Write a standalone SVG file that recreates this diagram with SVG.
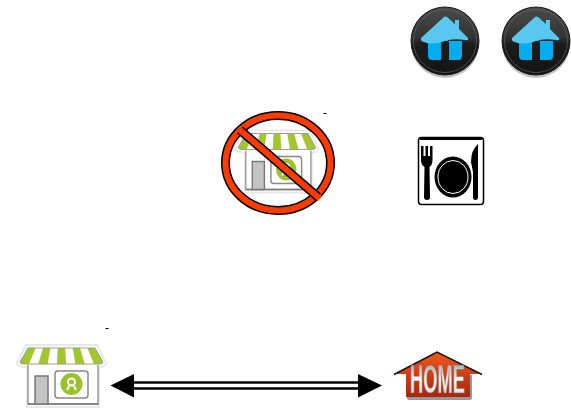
<svg xmlns="http://www.w3.org/2000/svg" width="571" height="408" viewBox="0 0 571 408">
<style>
.tick{stroke:#000;stroke-width:1}
.shaft{stroke:#000;stroke-width:2.500;fill:none}
</style>
<defs>
<linearGradient id="disc" x1="0" y1="0" x2="0" y2="1"><stop offset="0" stop-color="#4a4a4a"/><stop offset=".45" stop-color="#333"/><stop offset=".55" stop-color="#1c1c1c"/><stop offset="1" stop-color="#141414"/></linearGradient>
<linearGradient id="homeFill" x1="0" y1="0" x2="0" y2="1"><stop offset="0" stop-color="#f4561a"/><stop offset="1" stop-color="#a8260e"/></linearGradient>
<linearGradient id="homeText" x1="0" y1="0" x2="0" y2="1"><stop offset="0" stop-color="#7f8f94"/><stop offset=".55" stop-color="#fff"/><stop offset="1" stop-color="#c4ced0"/></linearGradient>
<symbol id="houseBtn" viewBox="-36 -36 72 74" width="72" height="74" overflow="visible">
<ellipse cx="0" cy="2.500" rx="34" ry="34.500" fill="#999" opacity=".6"/>
<circle r="34" fill="url(#disc)" stroke="#1a1a1a" stroke-width="1"/>
<circle r="31.500" fill="none" stroke="#6a6a6a" stroke-width="1" opacity=".6"/>
<path d="M-17 0V15Q-17 19 -13 19H-4V3Q-4 -2 0 -2T4 3V19H13Q17 19 17 15V0Z" fill="#00aeef"/>
<path d="M-24 -3L-1 -24Q0 -25 2 -24L10 -17V-21H14V-12L23 -3Q24 0 20 -1Q6 -3 -3 1Q-14 4 -21 1Q-25 0 -24 -3Z" fill="#58c8f0"/>
</symbol>
<symbol id="shop" viewBox="0 0 90 64" width="90" height="64" overflow="visible">
<path d="M-1 18L8 0H79L88 18Q88 22 81 22V62H9V22Q-1 22 -1 18Z" fill="#fff" stroke="#e8e8e8" stroke-width="2"/>
<path d="M2 17L10 3H77L85 17Q85 19 81 19H6Q2 19 2 17Z" fill="#a3c62d" stroke="#999" stroke-width="1"/>
<path d="M17.400 3.500H24.900L20.400 18.500H11.200ZM32.300 3.500H39.800L38.900 18.500H29.700ZM47.200 3.500H54.700L57.300 18.500H48.100ZM62.100 3.500H69.600L75.800 18.500H66.600Z" fill="#fff"/>
<path d="M10 20V59H80V20" fill="#fff" stroke="#999" stroke-width="1.500"/>
<path d="M10 59H80" stroke="#777" stroke-width="1.500"/>
<rect x="17" y="31" width="13" height="28" fill="#c4c4c4" stroke="#777" stroke-width="1.500"/>
<rect x="37" y="26" width="33" height="27" rx="3" fill="#fff" stroke="#888" stroke-width="1.500"/>
<circle cx="53.500" cy="39" r="11" fill="#9cc22b"/>
<circle cx="53.500" cy="37" r="3.500" fill="none" stroke="#fff" stroke-width="2"/>
<path d="M51 41L49 45M56 41L58 45" stroke="#fff" stroke-width="2"/>
</symbol>
</defs>
<g id="home-button-1"><use href="#houseBtn" x="409" y="5"/></g>
<g id="home-button-2"><use href="#houseBtn" x="500" y="5"/></g>
<g id="store-no">
<g transform="translate(236.500,130.500) scale(.93,1)"><use href="#shop"/></g>
<ellipse cx="278" cy="163" rx="52.500" ry="47.500" fill="none" stroke="#000" stroke-width="9"/>
<ellipse cx="278" cy="163" rx="52.500" ry="47.500" fill="none" stroke="#ff3b00" stroke-width="6"/>
<path d="M240 130L318 197" stroke="#000" stroke-width="9"/>
<path d="M238 128.300L320 198.700" stroke="#ff3b00" stroke-width="6"/>
<path class="tick" d="M323.500 113.500H326.500"/>
</g>
<g id="restaurant">
<rect x="418.500" y="137.500" width="65" height="67" rx="3" fill="#fff" stroke="#000" stroke-width="1.500"/>
<path d="M420 137H482V140H420Z" fill="#000"/>
<path d="M421 146H423.500V156H425.500V146H428V156H430V146H432.500V160Q432.500 165 429.500 167L430 197Q430 200 427 200T424 197L424.500 167Q421 165 421 160Z" fill="#000"/>
<ellipse cx="453" cy="177" rx="18.500" ry="20.500" fill="#000"/>
<ellipse cx="453" cy="177" rx="15" ry="16.500" fill="none" stroke="#fff" stroke-width="1"/>
<path d="M473 172V197Q473 200 475.500 200T478 197V144Q471 150 471 162Z" fill="#000"/>
</g>
<g id="store"><use href="#shop" x="18" y="345"/><path class="tick" d="M105.500 328.500H108.500"/></g>
<g id="home-sign">
<path d="M407 375H472V398Q472 400 469 400H410Q407 400 407 398Z" fill="#333" opacity=".5"/>
<path d="M395 374L437 352L480 374H470V397H406V374Z" fill="url(#homeFill)"/>
<path d="M394 374.500L437 352L482 374.500" fill="none" stroke="#111" stroke-width="1.500"/>
<text x="437.500" y="393" text-anchor="middle" font-family="'Liberation Sans',sans-serif" font-weight="700" font-size="40" textLength="55" lengthAdjust="spacingAndGlyphs" fill="url(#homeText)" stroke="#666" stroke-width=".4">HOME</text>
</g>
<g id="connectors">
<path class="shaft" d="M130 382.500H362M130 388.500H362"/>
<path d="M110.500 385.500L134 374V397.500Z" fill="#000"/>
<path d="M382 385.500L358 374V397.500Z" fill="#000"/>
</g>
</svg>
